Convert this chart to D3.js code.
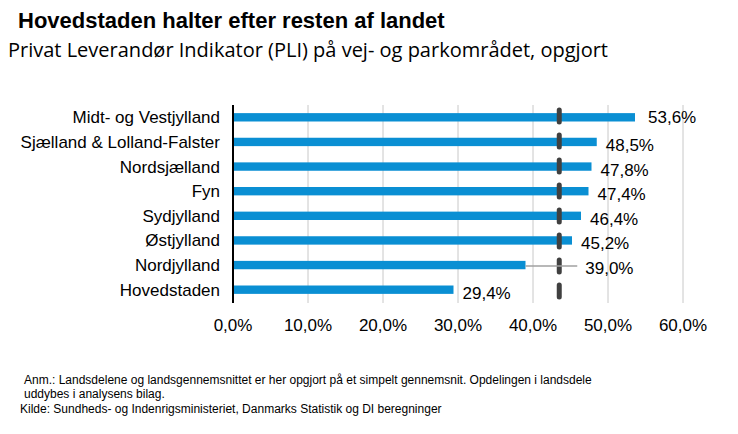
<!DOCTYPE html>
<html><head><meta charset="utf-8">
<script src="https://cdn.jsdelivr.net/npm/d3@7"></script>
<style>body{margin:0;background:#fff}text{font-family:"Liberation Sans",Arial,sans-serif}</style>
</head><body><svg id="c" width="738" height="434"></svg>
<script>
var regions = ['Midt- og Vestjylland','Sjælland & Lolland-Falster','Nordsjælland','Fyn','Sydjylland','Østjylland','Nordjylland','Hovedstaden'];
var pli = [53.6, 48.5, 47.8, 47.4, 46.4, 45.2, 39.0, 29.4];
var average = 43.5;
var ticks = [0, 10, 20, 30, 40, 50, 60];

var svg = d3.select('#c');
var x = d3.scaleLinear().domain([0, 60]).range([233, 683]);
var y = d3.scaleBand().domain(regions).range([105, 302]).paddingInner(0.66).paddingOuter(0.33);
var fmt = function(v){ return v.toFixed(1).replace('.', ',') + '%'; };

svg.append('text').attr('x', 18).attr('y', 28).attr('font-size', 22).attr('font-weight', 'bold')
  .text('Hovedstaden halter efter resten af landet');
svg.append('text').attr('x', 8).attr('y', 57).attr('font-size', 20)
  .style('font-family', '"Open Sans",sans-serif')
  .text('Privat Leverandør Indikator (PLI) på vej- og parkområdet, opgjort');

// grid
svg.selectAll('.grid').data(ticks.slice(1)).enter().append('line')
  .attr('x1', function(d){ return x(d); }).attr('x2', function(d){ return x(d); })
  .attr('y1', 105).attr('y2', 303).attr('stroke', '#c8c8c8').attr('stroke-width', 1);

svg.selectAll('.bar').data(pli).enter().append('rect')
  .attr('x', x(0)).attr('y', function(d, i){ return y(regions[i]); })
  .attr('width', function(d){ return x(d) - x(0); }).attr('height', y.bandwidth())
  .attr('fill', '#0a8fd3');

// average line
svg.append('line').attr('x1', x(average)).attr('x2', x(average))
  .attr('y1', 110).attr('y2', 300).attr('stroke', '#404040').attr('stroke-width', 5)
  .attr('stroke-linecap', 'round').attr('stroke-dasharray', '12,13');

svg.append('line').attr('x1', x(0)).attr('x2', x(0)).attr('y1', 105).attr('y2', 303)
  .attr('stroke', '#000').attr('stroke-width', 2);

// category labels
svg.selectAll('.cat').data(regions).enter().append('text')
  .attr('x', 220).attr('y', function(d){ return y(d) + y.bandwidth() / 2 + 6; })
  .attr('text-anchor', 'end').attr('font-size', 17).text(function(d){ return d; });

// value labels
svg.selectAll('.val').data(pli).enter().append('text')
  .attr('x', function(d, i){ return i === 6 ? x(average) + 26 : x(d) + (i === 0 ? 13 : 9); })
  .attr('y', function(d, i){ return y(regions[i]) + y.bandwidth() / 2 + (i === 0 ? 6 : 9); })
  .attr('font-size', 17).text(fmt);
svg.append('line').attr('x1', x(pli[6])).attr('x2', x(average) + 18)
  .attr('y1', y(regions[6]) + y.bandwidth() / 2 + 1).attr('y2', y(regions[6]) + y.bandwidth() / 2 + 1)
  .attr('stroke', '#a0a0a0').attr('stroke-width', 1.5);

svg.selectAll('.tick').data(ticks).enter().append('text')
  .attr('x', function(d){ return x(d); }).attr('y', 331).attr('text-anchor', 'middle')
  .attr('font-size', 17).text(function(d){ return d.toFixed(1).replace('.', ',') + '%'; });

var notes = [
  [24, 384, 'Anm.: Landsdelene og landsgennemsnittet er her opgjort på et simpelt gennemsnit. Opdelingen i landsdele'],
  [24, 398, 'uddybes i analysens bilag.'],
  [20, 413, 'Kilde: Sundheds- og Indenrigsministeriet, Danmarks Statistik og DI beregninger']
];
svg.selectAll('.note').data(notes).enter().append('text')
  .attr('x', function(d){ return d[0]; }).attr('y', function(d){ return d[1]; })
  .attr('font-size', 12).text(function(d){ return d[2]; });
</script></body></html>
